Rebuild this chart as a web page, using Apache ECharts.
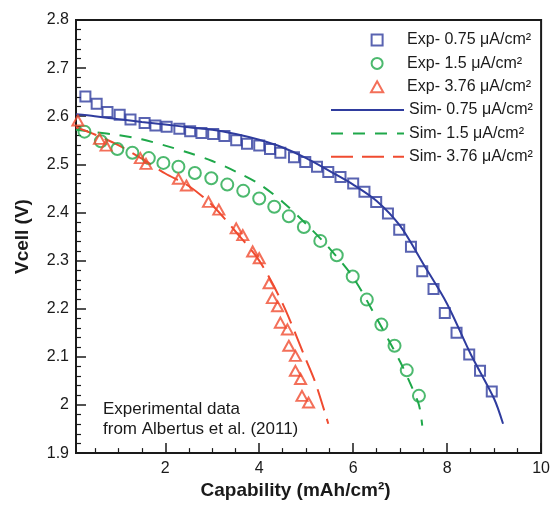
<!DOCTYPE html>
<html><head><meta charset="utf-8">
<script src="https://cdn.jsdelivr.net/npm/echarts@6/dist/echarts.min.js"></script>
<style>html,body{margin:0;padding:0;background:#fff}#c{width:553px;height:505px}</style>
</head><body><div id="c"></div>
<script>
// ---- data ----
const seriesNames = ['Exp- 0.75 μA/cm²','Exp- 1.5 μA/cm²','Exp- 3.76 μA/cm²','Sim- 0.75 μA/cm²','Sim- 1.5 μA/cm²','Sim- 3.76 μA/cm²'];
const xMajorTicks = [2,4,6,8,10];
const xMinorTicks = [0.5,1,1.5,2.5,3,3.5,4.5,5,5.5,6.5,7,7.5,8.5,9,9.5];
const exp075 = [[0.30,2.641],[0.54,2.626],[0.77,2.609],[1.03,2.603],[1.26,2.593],[1.56,2.586],[1.79,2.581],[2.03,2.578],[2.30,2.574],[2.53,2.569],[2.77,2.565],[3.02,2.563],[3.26,2.559],[3.51,2.550],[3.74,2.543],[4.00,2.539],[4.23,2.532],[4.45,2.524],[4.74,2.515],[4.98,2.505],[5.23,2.495],[5.47,2.484],[5.73,2.474],[6.00,2.460],[6.24,2.443],[6.49,2.422],[6.74,2.398],[6.98,2.364],[7.23,2.329],[7.47,2.278],[7.71,2.241],[7.95,2.191],[8.20,2.150],[8.47,2.105],[8.70,2.071],[8.95,2.028]];
const exp15 = [[0.28,2.568],[0.63,2.548],[0.98,2.532],[1.30,2.524],[1.65,2.513],[1.96,2.503],[2.28,2.495],[2.63,2.482],[2.98,2.471],[3.32,2.458],[3.66,2.445],[4.00,2.429],[4.32,2.412],[4.63,2.392],[4.95,2.370],[5.30,2.341],[5.65,2.311],[5.99,2.267],[6.29,2.219],[6.60,2.167],[6.88,2.123],[7.14,2.072],[7.40,2.019]];
const exp376 = [[0.07,2.608],[0.14,2.591],[0.60,2.553],[0.74,2.539],[1.47,2.513],[1.59,2.501],[2.28,2.470],[2.45,2.456],[2.92,2.422],[3.14,2.406],[3.51,2.367],[3.65,2.353],[3.86,2.319],[4.00,2.305],[4.21,2.253],[4.28,2.222],[4.39,2.205],[4.45,2.171],[4.60,2.157],[4.63,2.123],[4.77,2.102],[4.77,2.071],[4.88,2.054],[4.91,2.019],[5.05,2.005]];
const sim075 = [[0.1,2.604],[0.5,2.600],[1,2.594],[1.5,2.588],[2,2.583],[2.5,2.577],[3,2.572],[3.5,2.563],[4,2.551],[4.5,2.535],[5,2.513],[5.5,2.486],[6,2.458],[6.5,2.424],[7,2.372],[7.5,2.292],[8,2.210],[8.5,2.106],[9,2.013],[9.19,1.961]];
const sim15 = [[0.1,2.572],[0.5,2.567],[1,2.561],[1.5,2.552],[2,2.539],[2.5,2.524],[3,2.507],[3.5,2.485],[4,2.459],[4.5,2.422],[5,2.376],[5.5,2.325],[6,2.265],[6.5,2.180],[7,2.090],[7.2,2.048],[7.4,2.000],[7.47,1.957]];
const sim376 = [[0.1,2.577],[0.5,2.562],[1,2.540],[1.5,2.512],[2,2.481],[2.5,2.455],[3,2.415],[3.5,2.360],[4,2.300],[4.5,2.210],[5,2.093],[5.2,2.045],[5.47,1.961]];
const annotation = ['Experimental data','from Albertus et al. (2011)'];

// ---- styles ----
const BLUE='#2f3c9e', GREEN='#1fa84a', RED='#f04b30', INK='#1a1a1a';
const FONT='"Liberation Sans", Arial, sans-serif';
const SQUARE_ICON='path://M0,0L10,0L10,10L0,10Z';
const TRI_ICON='path://M5,0L10,9L0,9Z';

const chart = echarts.init(document.getElementById('c'), null, {renderer:'canvas'});
const hollow = c => ({color:'rgba(255,255,255,0)', borderColor:c, borderWidth:2});
chart.setOption({
  animation:false,
  textStyle:{fontFamily:FONT},
  grid:{left:76, right:6, top:20, bottom:49, show:true, borderColor:INK, borderWidth:2, backgroundColor:'transparent'},
  legend:[
    {data:[{name:seriesNames[0], icon:SQUARE_ICON},{name:seriesNames[1], icon:'circle'},{name:seriesNames[2], icon:TRI_ICON}],
     orient:'vertical', left:370, top:31, padding:0, itemWidth:50, itemHeight:11, itemGap:5.4, symbolKeepAspect:true,
     itemStyle:{borderWidth:2},
     textStyle:{fontFamily:FONT, fontSize:16, color:INK, lineHeight:18}, selectedMode:false},
    {data:seriesNames.slice(3), orient:'vertical', left:330, top:101, padding:0, itemWidth:73, itemHeight:11, itemGap:5.4,
     itemStyle:{opacity:0},
     textStyle:{fontFamily:FONT, fontSize:16, color:INK, lineHeight:18}, selectedMode:false}
  ],
  xAxis:[
    {type:'value', min:0.1, max:10, position:'bottom',
     name:'Capability (mAh/cm²)', nameLocation:'middle', nameGap:27,
     nameTextStyle:{fontFamily:FONT, fontSize:19, fontWeight:'bold', color:INK, padding:[0,26,0,0]},
     axisLine:{show:true, onZero:false, lineStyle:{color:INK, width:2}},
     axisTick:{show:true, inside:true, length:10, customValues:xMajorTicks, lineStyle:{color:INK, width:1.5}},
     axisLabel:{show:true, customValues:xMajorTicks, fontFamily:FONT, fontSize:16, color:INK, margin:7},
     splitLine:{show:false}},
    {type:'value', min:0.1, max:10, position:'bottom', gridIndex:0,
     axisLine:{show:false},
     axisTick:{show:true, inside:true, length:5, customValues:xMinorTicks, lineStyle:{color:INK, width:1.2}},
     axisLabel:{show:false}, splitLine:{show:false}}
  ],
  yAxis:{type:'value', min:1.9, max:2.8, interval:0.1,
     name:'Vcell (V)', nameLocation:'middle', nameGap:44,
     nameTextStyle:{fontFamily:FONT, fontSize:19, fontWeight:'bold', color:INK},
     axisLine:{show:true, onZero:false, lineStyle:{color:INK, width:2}},
     axisTick:{show:true, inside:true, length:10, lineStyle:{color:INK, width:1.5}},
     minorTick:{show:true, splitNumber:5, length:5, lineStyle:{color:INK, width:1.2}},
     axisLabel:{fontFamily:FONT, fontSize:16, color:INK, margin:7},
     splitLine:{show:false}, minorSplitLine:{show:false}},
  graphic:[{type:'text', left:103, top:399, style:{text:annotation.join('\n'), fontFamily:FONT, fontSize:17, lineHeight:20, fill:INK}}],
  series:[
    {name:seriesNames[0], type:'scatter', xAxisIndex:0, data:exp075, symbol:'rect', symbolSize:10, itemStyle:hollow(BLUE), z:3},
    {name:seriesNames[1], type:'scatter', xAxisIndex:0, data:exp15, symbol:'circle', symbolSize:12, itemStyle:hollow(GREEN), z:3},
    {name:seriesNames[2], type:'scatter', xAxisIndex:0, data:exp376, symbol:'triangle', symbolSize:[11,10], itemStyle:hollow(RED), z:3},
    {name:seriesNames[3], type:'line', xAxisIndex:0, data:sim075, symbol:'none', showSymbol:false, smooth:0.3, lineStyle:{color:BLUE, width:2}, itemStyle:{color:BLUE}, z:2},
    {name:seriesNames[4], type:'line', xAxisIndex:0, data:sim15, symbol:'none', showSymbol:false, smooth:0.3, lineStyle:{color:GREEN, width:2, type:[12,10]}, itemStyle:{color:GREEN}, z:2},
    {name:seriesNames[5], type:'line', xAxisIndex:0, data:sim376, symbol:'none', showSymbol:false, smooth:0.3, lineStyle:{color:RED, width:2, type:[22,9]}, itemStyle:{color:RED}, z:2}
  ]
});
</script></body></html>
